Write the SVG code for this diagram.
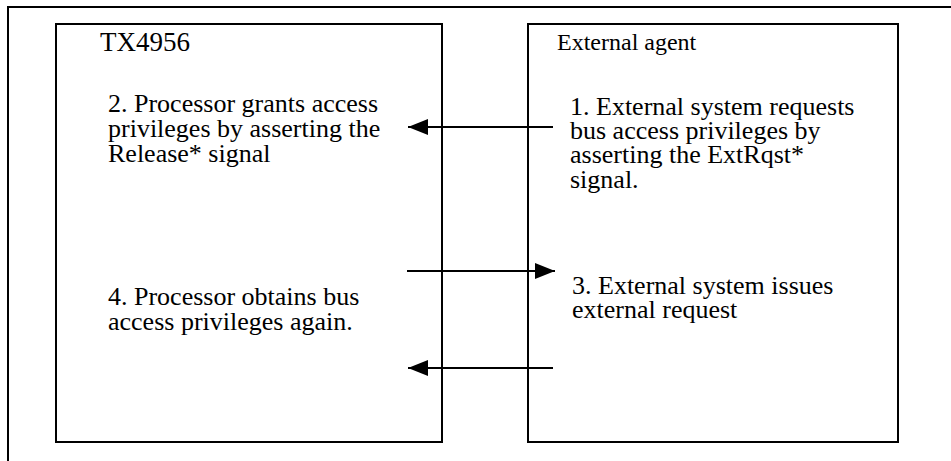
<svg xmlns="http://www.w3.org/2000/svg" width="951" height="461" viewBox="0 0 951 461">
  <style>
    .frame { fill: none; stroke: #000; stroke-width: 2; }
    .box { fill: #fff; stroke: #000; stroke-width: 2; }
    .t { font-family: "Liberation Serif", "Times New Roman", serif; fill: #000; }
    .title { font-size: 27px; }
    .small { font-size: 24px; }
    .body { font-size: 26px; }
    .wire { stroke: #000; stroke-width: 2; fill: none; }
  </style>
  <defs>
    <marker id="head" viewBox="0 0 20 16" refX="20" refY="8" markerWidth="20" markerHeight="16" markerUnits="userSpaceOnUse" orient="auto">
      <path d="M0,0 L20,8 L0,16 Z" fill="#000"/>
    </marker>
  </defs>

  <!-- surrounding frame (top and left edges) -->
  <path class="frame" d="M8,461 L8,7 L951,7"/>

  <g id="tx4956">
    <rect class="box" x="56" y="24" width="386" height="418"/>
    <text class="t title" x="100" y="51">TX4956</text>
    <text class="t body"><tspan x="108" y="112">2. Processor grants access</tspan><tspan x="108" y="137">privileges by asserting the</tspan><tspan x="108" y="162">Release* signal</tspan></text>
    <text class="t body"><tspan x="108" y="305">4. Processor obtains bus</tspan><tspan x="108" y="330">access privileges again.</tspan></text>
  </g>

  <g id="external-agent">
    <rect class="box" x="528" y="24" width="370" height="418"/>
    <text class="t small" x="557" y="50">External agent</text>
    <text class="t body"><tspan x="570" y="115">1. External system requests</tspan><tspan x="570" y="139">bus access privileges by</tspan><tspan x="570" y="163">asserting the ExtRqst*</tspan><tspan x="570" y="188">signal.</tspan></text>
    <text class="t body"><tspan x="572" y="294">3. External system issues</tspan><tspan x="572" y="318">external request</tspan></text>
  </g>

  <g id="connectors">
    <line class="wire" x1="553" y1="127" x2="408" y2="127" marker-end="url(#head)"/>
    <line class="wire" x1="407" y1="271" x2="555" y2="271" marker-end="url(#head)"/>
    <line class="wire" x1="553" y1="368" x2="408" y2="368" marker-end="url(#head)"/>
  </g>
</svg>
